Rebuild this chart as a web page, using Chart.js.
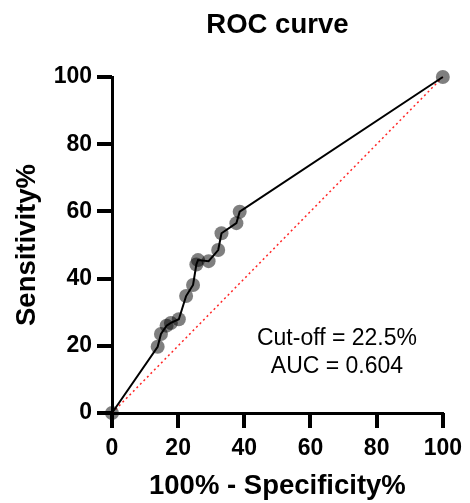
<!DOCTYPE html>
<html>
<head>
<meta charset="utf-8">
<script src="https://cdn.jsdelivr.net/npm/chart.js@4/dist/chart.umd.min.js"></script>
<style>
  html, body { margin: 0; padding: 0; background: #fff; }
  #wrap { width: 470px; height: 503px; }
</style>
</head>
<body>
<div id="wrap"><canvas id="c" width="470" height="503"></canvas></div>
<script>
const chartTitle = 'ROC curve';
const xTitle = '100% - Specificity%';
const yTitle = 'Sensitivity%';
const xTicks = [0, 20, 40, 60, 80, 100];
const yTicks = [0, 20, 40, 60, 80, 100];
const fpr = [0, 13.8, 14.8, 16.5, 17.8, 20.2, 22.4, 24.5, 25.5, 26.0, 29.2, 32.1, 33.1, 37.6, 38.6, 100];
const sensitivity = [0, 19.7, 23.5, 26.0, 26.8, 27.9, 34.8, 38.1, 44.2, 45.5, 45.2, 48.5, 53.5, 56.5, 59.9, 100];
const refX = [0, 100];
const refY = [0, 100];
const annotationLines = ['Cut-off = 22.5%', 'AUC = 0.604'];

const FONT = '"Liberation Sans", Arial, Helvetica, sans-serif';
const TICK_LEN = 15;

const rocPoints = fpr.map((x, i) => ({ x: x, y: sensitivity[i] }));
const refPoints = refX.map((x, i) => ({ x: x, y: refY[i] }));

const overlay = {
  id: 'overlay',
  afterDraw(chart) {
    const ctx = chart.ctx;
    const ca = chart.chartArea;
    const xs = chart.scales.x, ys = chart.scales.y;
    ctx.save();
    ctx.setLineDash([]);
    ctx.globalAlpha = 1;
    ctx.fillStyle = '#000';
    xTicks.forEach(v => {
      const px = Math.round(xs.getPixelForValue(v));
      ctx.fillRect(px - 2, Math.round(ca.bottom), 4, TICK_LEN);
    });
    yTicks.forEach(v => {
      const py = Math.round(ys.getPixelForValue(v));
      ctx.fillRect(Math.round(ca.left) - TICK_LEN, py - 2, TICK_LEN, 4);
    });
    ctx.textAlign = 'center';
    ctx.textBaseline = 'middle';
    ctx.font = 'bold 27.5px ' + FONT;
    ctx.fillText(chartTitle, (ca.left + ca.right) / 2, 25);
    ctx.font = '23px ' + FONT;
    const ax = xs.getPixelForValue(68);
    ctx.fillText(annotationLines[0], ax, ys.getPixelForValue(22.0));
    ctx.fillText(annotationLines[1], ax, ys.getPixelForValue(13.7));
    ctx.restore();
  }
};

const gridOpts = {
  display: true,
  drawOnChartArea: false,
  drawTicks: true,
  tickLength: 14,
  lineWidth: 3,
  color: '#000',
  tickColor: '#000',
  tickWidth: 3
};

new Chart(document.getElementById('c'), {
  type: 'scatter',
  data: {
    datasets: [
      {
        data: refPoints,
        showLine: true,
        borderColor: 'rgba(255,0,0,0.85)',
        borderWidth: 1.5,
        borderDash: [2, 3],
        pointRadius: 0,
        pointHoverRadius: 0,
        clip: false,
        order: 2
      },
      {
        data: rocPoints,
        showLine: true,
        borderColor: '#000',
        borderWidth: 2,
        pointRadius: 7,
        pointHoverRadius: 7,
        pointBackgroundColor: 'rgba(0,0,0,0.5)',
        pointBorderWidth: 0,
        pointBorderColor: 'rgba(0,0,0,0)',
        clip: false,
        order: 1
      }
    ]
  },
  plugins: [overlay],
  options: {
    responsive: false,
    animation: false,
    devicePixelRatio: 1,
    layout: { padding: { top: 77, right: 22, left: 0, bottom: 0 } },
    plugins: {
      legend: { display: false },
      tooltip: { enabled: false },
      title: { display: false }
    },
    scales: {
      x: {
        type: 'linear',
        min: 0, max: 100,
        afterFit(s) { s.height = 90; },
        afterBuildTicks(s) { s.ticks = xTicks.map(v => ({ value: v })); },
        ticks: { font: { family: FONT, size: 23, weight: 'bold' }, color: '#000', padding: 8 },
        grid: Object.assign({}, gridOpts),
        border: { display: true, width: 3, color: '#000' },
        title: { display: true, text: xTitle, color: '#000', font: { family: FONT, size: 27.5, weight: 'bold' }, padding: { top: 0, bottom: 0 } }
      },
      y: {
        type: 'linear',
        min: 0, max: 100,
        afterFit(s) { s.width = 112; },
        afterBuildTicks(s) { s.ticks = yTicks.map(v => ({ value: v })); },
        ticks: { font: { family: FONT, size: 23, weight: 'bold' }, color: '#000', padding: 6 },
        grid: Object.assign({}, gridOpts),
        border: { display: true, width: 3, color: '#000' },
        title: { display: true, text: yTitle, color: '#000', font: { family: FONT, size: 27.5, weight: 'bold' }, padding: { top: 10.5, bottom: 0 } }
      }
    }
  }
});
</script>
</body>
</html>
